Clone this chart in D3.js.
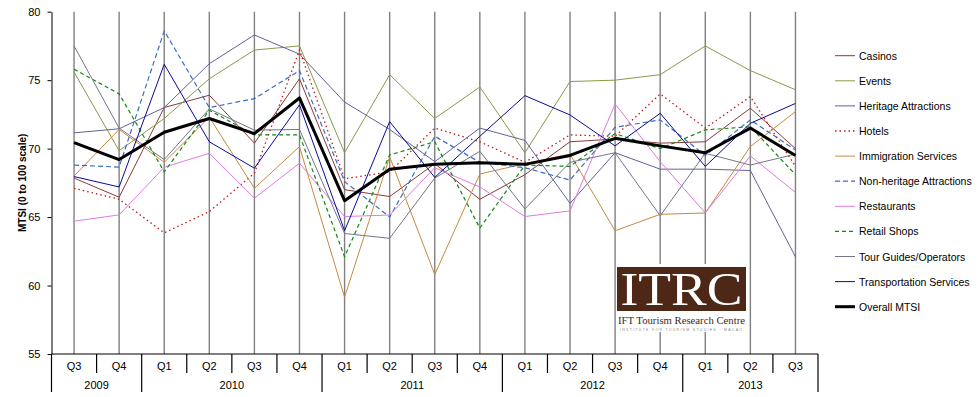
<!DOCTYPE html>
<html>
<head>
<meta charset="utf-8">
<script src="https://cdn.jsdelivr.net/npm/d3@7"></script>
<style>
  html, body { margin: 0; padding: 0; background: #fff; }
  svg { display: block; font-family: "Liberation Sans", Arial, sans-serif; }
</style>
</head>
<body>
<svg id="chart" width="978" height="397"></svg>
<script>
// quarters and years along the bottom
const quarters = ["Q3","Q4","Q1","Q2","Q3","Q4","Q1","Q2","Q3","Q4","Q1","Q2","Q3","Q4","Q1","Q2","Q3"];
const years = ["2009","2009","2010","2010","2010","2010","2011","2011","2011","2011","2012","2012","2012","2012","2013","2013","2013"];
const yTicks = [55, 60, 65, 70, 75, 80];

// MTSI values
const casinos       = [67.85,66.45,73.0,73.9,70.4,75.1,67.0,66.5,68.9,66.3,68.1,70.5,70.7,70.4,70.5,72.95,70.0];
const events        = [75.6,69.85,72.2,75.1,77.2,77.5,69.7,75.4,72.2,74.5,69.7,74.9,75.0,75.4,77.5,75.7,74.3];
const heritage      = [71.15,71.45,73.0,76.2,78.3,76.9,73.4,71.4,69.05,71.5,70.6,66.0,69.7,68.5,68.5,68.4,62.1];
const hotels        = [67.1,66.3,63.85,65.4,68.2,77.2,67.8,68.3,71.5,70.5,69.0,71.0,70.9,74.0,71.5,73.8,68.7];
const immigration   = [68.0,71.4,69.0,72.3,67.1,70.15,59.15,69.4,60.8,68.15,68.9,69.6,64.0,65.2,65.3,70.15,72.7];
const nonHeritage   = [68.8,68.65,78.6,73.0,73.65,75.7,67.6,65.0,70.9,69.0,68.6,67.7,71.56,72.1,69.5,72.1,69.9];
const restaurants   = [64.7,65.16,68.64,69.66,66.38,68.93,65.04,65.15,68.6,67.2,65.04,65.45,73.26,69.05,65.3,69.47,66.8];
const retail        = [75.8,74.0,68.3,72.8,71.0,71.0,62.1,69.54,70.5,64.2,68.8,68.7,71.1,70.0,71.37,71.6,68.1];
const tourGuides    = [77.5,71.5,69.2,72.9,71.35,71.4,63.8,63.45,67.85,69.8,65.6,69.0,69.7,65.1,69.66,68.8,69.6];
const transport     = [67.96,67.2,76.16,70.5,68.57,73.2,64.0,71.97,67.9,70.9,73.87,72.46,70.2,72.58,68.7,71.85,73.3];
const overall       = [70.44,69.2,71.2,72.2,71.1,73.7,66.2,68.5,68.86,68.96,68.85,69.5,70.75,70.2,69.7,71.5,69.5];

const seriesNames = ["Casinos","Events","Heritage Attractions","Hotels","Immigration Services",
  "Non-heritage Attractions","Restaurants","Retail Shops","Tour Guides/Operators",
  "Transportation Services","Overall MTSI"];
const seriesValues = [casinos, events, heritage, hotels, immigration, nonHeritage,
  restaurants, retail, tourGuides, transport, overall];
const seriesColors = ["#8b3a3a","#8a9a48","#62629c","#c01818","#c68a3e","#3a6fc4",
  "#e07be0","#118811","#74748e","#0a0a9a","#000000"];
const seriesDash = [null,null,null,"1.5,3",null,"5,3",null,"4,3",null,null,null];
const seriesWidth = [1,1,1,1.3,1,1.2,1,1.2,1,1,3];

const svg = d3.select("#chart");
const plotLeft = 51.5, plotRight = 818, plotTop = 11.7, plotBottom = 354;
const keys = quarters.map((q, i) => years[i] + " " + q);

const x = d3.scaleBand().domain(keys).range([plotLeft, plotRight]).padding(0);
const y = d3.scaleLinear().domain([55, 80]).range([plotBottom, plotTop]);
const cx = k => x(k) + x.bandwidth() / 2;

// vertical gray lines at each quarter
svg.append("g").selectAll("line")
  .data(keys).join("line")
  .attr("x1", cx).attr("x2", cx)
  .attr("y1", plotTop).attr("y2", plotBottom)
  .attr("stroke", "#808080").attr("stroke-width", 1.4);

// y axis
const yAxis = svg.append("g")
  .attr("transform", `translate(${plotLeft},0)`)
  .call(d3.axisLeft(y).tickValues(yTicks).tickSize(4).tickSizeOuter(0).tickPadding(7));
yAxis.select(".domain").attr("stroke", "#000");
yAxis.selectAll(".tick line").attr("stroke", "#000");
yAxis.selectAll("text").attr("font-size", 11).attr("fill", "#000")
  .attr("font-family", "'Liberation Sans', Arial, sans-serif");

svg.append("text")
  .attr("transform", `translate(26,${(plotTop + plotBottom) / 2}) rotate(-90)`)
  .attr("text-anchor", "middle")
  .attr("font-size", 10).attr("font-weight", "bold")
  .text("MTSI (0 to 100 scale)");

// logo (white backing hides the grid behind it)
const logo = svg.append("g");
logo.append("rect").attr("x", 616).attr("y", 264).attr("width", 133).attr("height", 68).attr("fill", "#fff");
logo.append("rect").attr("x", 617).attr("y", 267).attr("width", 129).attr("height", 44).attr("fill", "#4e2816");
logo.append("text").attr("x", 681.5).attr("y", 304.5)
  .attr("text-anchor", "middle")
  .attr("font-family", "'Liberation Serif', 'DejaVu Serif', serif").attr("font-size", 47)
  .attr("fill", "#fff").attr("textLength", 122).attr("lengthAdjust", "spacingAndGlyphs")
  .text("ITRC");
logo.append("text").attr("x", 618).attr("y", 324)
  .attr("font-family", "'Liberation Serif', serif").attr("font-size", 10.5)
  .attr("fill", "#3a2a22").attr("textLength", 127).attr("lengthAdjust", "spacingAndGlyphs")
  .text("IFT Tourism Research Centre");
logo.append("text").attr("x", 620).attr("y", 330.5)
  .attr("font-family", "'Liberation Sans', sans-serif").attr("font-size", 3.5)
  .attr("fill", "#888").attr("textLength", 122).attr("lengthAdjust", "spacing")
  .text("INSTITUTE FOR TOURISM STUDIES · MACAO");

// series lines
const line = d3.line().x((d, i) => cx(keys[i])).y(d => y(d));
svg.append("g").selectAll("path")
  .data(seriesValues).join("path")
  .attr("d", d => line(d))
  .attr("fill", "none")
  .attr("stroke", (d, i) => seriesColors[i])
  .attr("stroke-width", (d, i) => seriesWidth[i])
  .attr("stroke-dasharray", (d, i) => seriesDash[i])
  .attr("stroke-linejoin", "round");

// x axis: two-level category table
const xa = svg.append("g").attr("stroke", "#000").attr("stroke-width", 1.2);
xa.append("line").attr("x1", plotLeft).attr("x2", plotRight).attr("y1", plotBottom).attr("y2", plotBottom);
const bounds = keys.map(k => x(k)).concat([plotRight]);
bounds.forEach((bx, i) => {
  const yearEdge = i === 0 || i === keys.length || years[i] !== years[i - 1];
  xa.append("line").attr("x1", bx).attr("x2", bx)
    .attr("y1", plotBottom).attr("y2", yearEdge ? 392 : 373);
});
svg.append("g").selectAll("text")
  .data(keys).join("text")
  .attr("x", cx).attr("y", 370)
  .attr("text-anchor", "middle").attr("font-size", 11)
  .text((k, i) => quarters[i]);
const yearGroups = d3.groups(keys, k => years[keys.indexOf(k)]);
svg.append("g").selectAll("text")
  .data(yearGroups).join("text")
  .attr("x", d => (x(d[1][0]) + x(d[1][d[1].length - 1]) + x.bandwidth()) / 2)
  .attr("y", 389)
  .attr("text-anchor", "middle").attr("font-size", 11)
  .text(d => d[0]);

// legend
const lg = svg.append("g").selectAll("g")
  .data(seriesNames).join("g")
  .attr("transform", (d, i) => `translate(835,${55.7 + i * 25.1})`);
lg.append("line").attr("x1", 0).attr("x2", 20).attr("y1", 0).attr("y2", 0)
  .attr("stroke", (d, i) => seriesColors[i])
  .attr("stroke-width", (d, i) => seriesWidth[i])
  .attr("stroke-dasharray", (d, i) => seriesDash[i]);
lg.append("text").attr("x", 24).attr("y", 4).attr("font-size", 10.5).text(d => d);
</script>
</body>
</html>
